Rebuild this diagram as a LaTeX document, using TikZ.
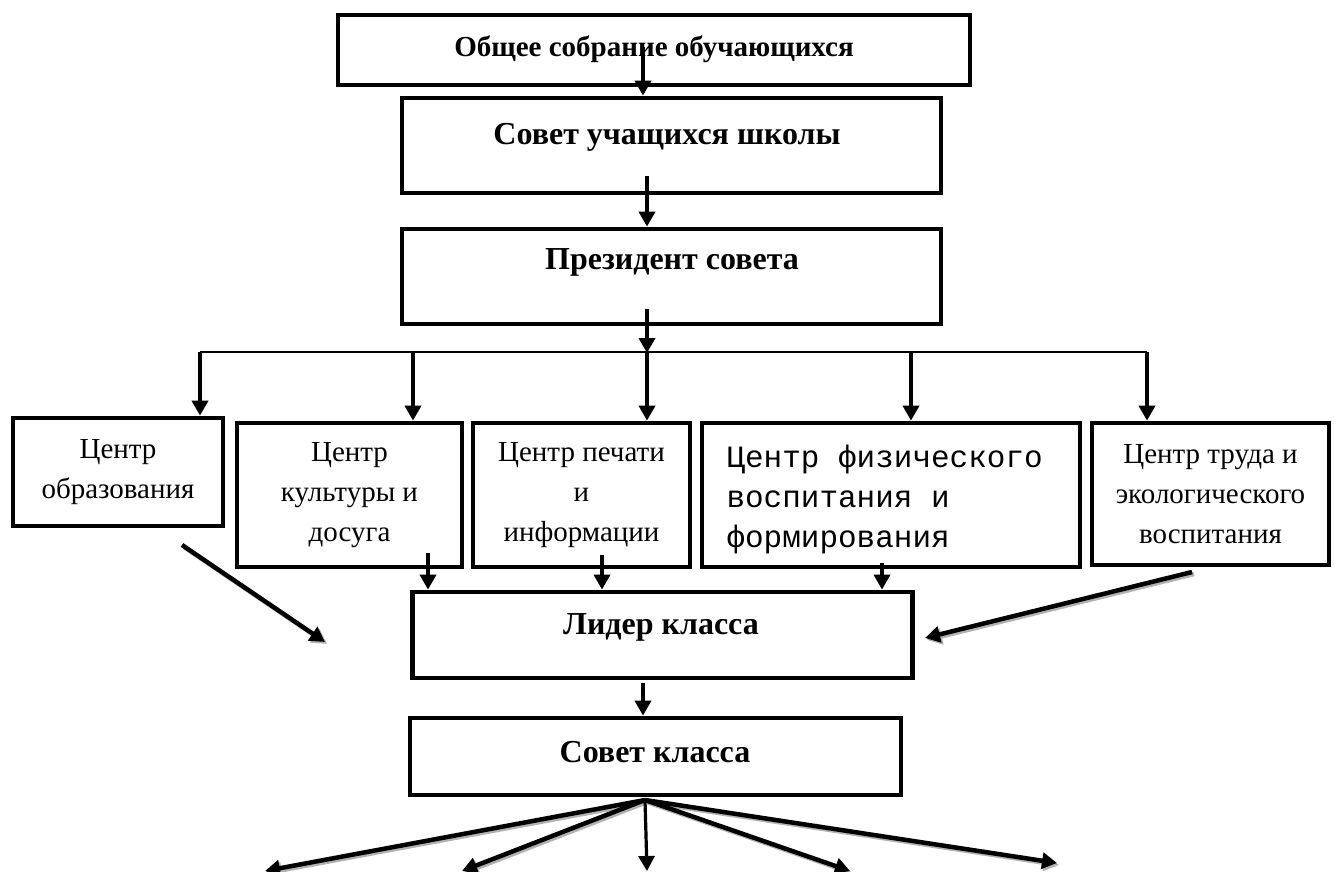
\documentclass[tikz,border=0pt]{standalone}
\usepackage{fontspec}
\setmainfont{Liberation Serif}
\setmonofont{Liberation Mono}
\usetikzlibrary{arrows.meta}
\tikzset{
  box/.style={draw, line width=4.8pt, inner sep=0pt},
  head/.style={font=\fontsize{32}{36}\selectfont\bfseries},
  txt/.style={font=\fontsize{29}{40}\selectfont, align=center},
  mono/.style={font=\ttfamily\fontsize{31}{40}\selectfont, align=left},
  arr/.style={line width=4.5pt, -{Triangle[length=15pt,width=16pt]}},
  shade/.style={line width=4.5pt, draw=gray!60, fill=gray!60, -{Triangle[length=15pt,width=16pt]}}
}
\begin{document}
\begin{tikzpicture}[x=1pt,y=-1pt]
\useasboundingbox (0,0) rectangle (1334,871);

% upper chain
\node (b0) at (654,50) [box, minimum width=632, minimum height=70] {};
\node (b1) at (671.5,145.5) [box, minimum width=539, minimum height=95] {};
\node (b2) at (671.5,276.5) [box, minimum width=539, minimum height=95] {};
\node (t0) at (654,49) [head, font=\fontsize{29}{34}\selectfont\bfseries] {Общее собрание обучающихся};
\node (t1) at (667,137) [head] {Совет учащихся школы};
\node (t2) at (672,262) [head] {Президент совета};

% centres
\node (c1) at (118,472) [box, txt, minimum width=210, minimum height=108] {Центр\\образования};
\node (c2) at (349.5,495) [box, txt, minimum width=225, minimum height=144] {Центр\\культуры и\\досуга};
\node (c3) at (581.5,495) [box, txt, minimum width=217, minimum height=144] {Центр печати\\и\\информации};
\node (c4) at (891,495) [box, minimum width=378, minimum height=144] {};
\node (t4) at (723,499) [mono, anchor=west] {Центр физического\\воспитания и\\формирования};
\node (c5) at (1210.5,494) [box, txt, minimum width=237, minimum height=142] {Центр труда и\\экологического\\воспитания};

% class level
\node (L) at (662.5,635) [box, minimum width=500, minimum height=86] {};
\node (K) at (655.5,756.5) [box, minimum width=491, minimum height=77] {};
\node (tL) at (661,627) [head] {Лидер класса};
\node (tK) at (655,752) [head] {Совет класса};

% arrow ends
\coordinate (s0) at (643,47);
\coordinate (s1) at (647,176);
\coordinate (s2) at (647,309);
\coordinate (bus) at (647,353);
\coordinate (d1) at (200,352);
\coordinate (d2) at (413,352);
\coordinate (d3) at (647,352);
\coordinate (d4) at (911,352);
\coordinate (d5) at (1147,352);
\coordinate (u2) at (428,553);
\coordinate (u3) at (602,555);
\coordinate (u4) at (882,563);
\coordinate (e1) at (182,545);
\coordinate (e1t) at (325,642);
\coordinate (e2) at (1192,572);
\coordinate (e2t) at (925,638);
\coordinate (sL) at (643,683);
\coordinate (f0) at (645,800);
\coordinate (f1) at (265,871);
\coordinate (f2) at (462,871);
\coordinate (f3) at (647,871);
\coordinate (f4) at (850,871);
\coordinate (f5) at (1057,863);

% bus line
\draw[line width=1.6pt] (d1) -- (d5);

\draw[arr] (s0) to (b1.north -| s0);
\draw[arr] (s1) to (b2.north -| s1);
\draw[arr] (s2) to (bus);
\draw[arr] (d1) to (c1.north -| d1);
\draw[arr] (d2) to (c2.north -| d2);
\draw[arr] (d3) to (c3.north -| d3);
\draw[arr] (d4) to (c4.north -| d4);
\draw[arr] (d5) to (c5.north -| d5);
\draw[arr] (u2) to (L.north -| u2);
\draw[arr] (u3) to (L.north -| u3);
\draw[arr] (u4) to (L.north -| u4);
\draw[arr] (sL) to (K.north -| sL);

% shadowed arrows
\draw[shade] ([xshift=2pt,yshift=-2pt]e1) to ([xshift=2pt,yshift=-2pt]e1t);
\draw[shade] ([xshift=2pt,yshift=-2pt]e2) to ([xshift=2pt,yshift=-2pt]e2t);
\draw[shade] ([xshift=2pt,yshift=-2pt]f0) to ([xshift=2pt,yshift=-2pt]f1);
\draw[shade] ([xshift=2pt,yshift=-2pt]f0) to ([xshift=2pt,yshift=-2pt]f2);
\draw[shade] ([xshift=2pt,yshift=-2pt]f0) to ([xshift=2pt,yshift=-2pt]f4);
\draw[shade] ([xshift=2pt,yshift=-2pt]f0) to ([xshift=2pt,yshift=-2pt]f5);
\draw[arr] (e1) to (e1t);
\draw[arr] (e2) to (e2t);
\draw[arr] (f0) to (f1);
\draw[arr] (f0) to (f2);
\draw[arr] (f0) to (f4);
\draw[arr] (f0) to (f5);
\draw[arr, line width=3.2pt] (f0) to (f3);
\end{tikzpicture}
\end{document}
